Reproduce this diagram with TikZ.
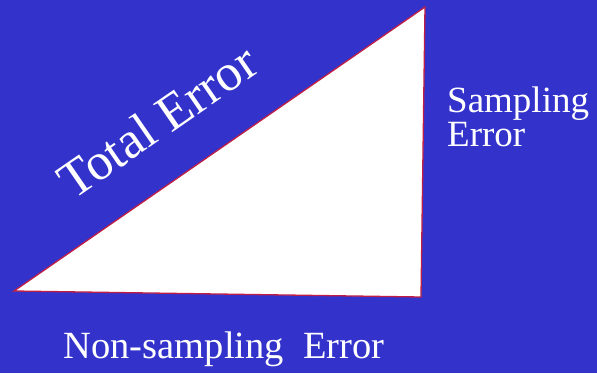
\documentclass[tikz,border=0pt]{standalone}
\usepackage{fontspec}
\setmainfont{Liberation Serif}
\definecolor{bg}{RGB}{51,51,204}
\definecolor{edge}{RGB}{190,30,70}
\begin{document}
\begin{tikzpicture}[x=1pt,y=1pt,
  lbl/.style={text=white, inner sep=0pt, font=\fontsize{37}{34}\selectfont}]
\fill[bg] (0,0) rectangle (597,373);
\useasboundingbox (0,0) rectangle (597,373);
\coordinate (A) at (14,82);
\coordinate (B) at (425,366);
\coordinate (C) at (421,76);
\filldraw[fill=white, draw=edge, line width=1.3pt, line join=miter] (A) -- (B) -- (C) -- cycle;
\node[lbl, font=\fontsize{52}{52}\selectfont, rotate=34.6, anchor=base west] (tot) at (73,172) {Total Error};
\node[lbl, anchor=base west, align=left] (samp) at (447,227) {Sampling\\Error};
\node[lbl, font=\fontsize{38.5}{38}\selectfont, anchor=base] (non) at (224,15) {Non-sampling\ \ Error};
\end{tikzpicture}
\end{document}
